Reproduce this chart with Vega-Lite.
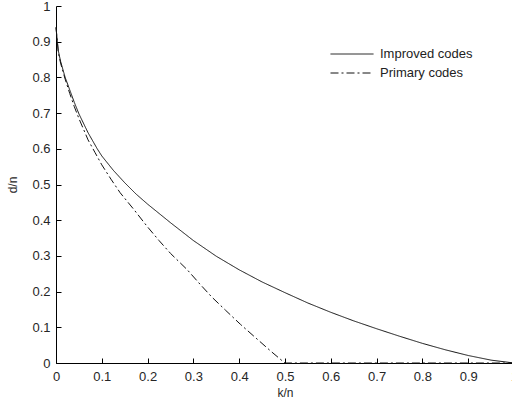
{
  "$schema": "https://vega.github.io/schema/vega-lite/v6.json",
  "autosize": "none",
  "padding": {"left": 56, "top": 6, "right": 0, "bottom": 42},
  "width": 458,
  "height": 357,
  "background": "white",
  "config": {
    "view": {"stroke": null},
    "font": "Liberation Sans",
    "axis": {"grid": false, "domainColor": "black", "tickColor": "black", "labelColor": "#262626", "titleColor": "#262626", "labelFont": "Liberation Sans", "titleFont": "Liberation Sans", "labelFontSize": 13, "titleFontSize": 12, "titleFontWeight": "normal", "domainWidth": 1, "tickWidth": 1}
  },
  "data": {
    "values": [
      {"k": 0, "d": 0.94, "s": "Improved codes"},
      {"k": 0.005, "d": 0.875, "s": "Improved codes"},
      {"k": 0.01, "d": 0.845, "s": "Improved codes"},
      {"k": 0.02, "d": 0.8, "s": "Improved codes"},
      {"k": 0.03, "d": 0.765, "s": "Improved codes"},
      {"k": 0.04, "d": 0.73, "s": "Improved codes"},
      {"k": 0.05, "d": 0.698, "s": "Improved codes"},
      {"k": 0.07, "d": 0.645, "s": "Improved codes"},
      {"k": 0.09, "d": 0.6, "s": "Improved codes"},
      {"k": 0.1, "d": 0.58, "s": "Improved codes"},
      {"k": 0.125, "d": 0.54, "s": "Improved codes"},
      {"k": 0.15, "d": 0.505, "s": "Improved codes"},
      {"k": 0.175, "d": 0.473, "s": "Improved codes"},
      {"k": 0.2, "d": 0.445, "s": "Improved codes"},
      {"k": 0.25, "d": 0.393, "s": "Improved codes"},
      {"k": 0.3, "d": 0.343, "s": "Improved codes"},
      {"k": 0.35, "d": 0.299, "s": "Improved codes"},
      {"k": 0.4, "d": 0.261, "s": "Improved codes"},
      {"k": 0.45, "d": 0.227, "s": "Improved codes"},
      {"k": 0.5, "d": 0.197, "s": "Improved codes"},
      {"k": 0.55, "d": 0.168, "s": "Improved codes"},
      {"k": 0.6, "d": 0.142, "s": "Improved codes"},
      {"k": 0.65, "d": 0.118, "s": "Improved codes"},
      {"k": 0.7, "d": 0.096, "s": "Improved codes"},
      {"k": 0.75, "d": 0.075, "s": "Improved codes"},
      {"k": 0.8, "d": 0.055, "s": "Improved codes"},
      {"k": 0.85, "d": 0.037, "s": "Improved codes"},
      {"k": 0.9, "d": 0.021, "s": "Improved codes"},
      {"k": 0.95, "d": 0.008, "s": "Improved codes"},
      {"k": 1, "d": 0, "s": "Improved codes"},
      {"k": 0, "d": 0.94, "s": "Primary codes"},
      {"k": 0.005, "d": 0.87, "s": "Primary codes"},
      {"k": 0.01, "d": 0.84, "s": "Primary codes"},
      {"k": 0.02, "d": 0.795, "s": "Primary codes"},
      {"k": 0.03, "d": 0.755, "s": "Primary codes"},
      {"k": 0.04, "d": 0.718, "s": "Primary codes"},
      {"k": 0.05, "d": 0.685, "s": "Primary codes"},
      {"k": 0.07, "d": 0.625, "s": "Primary codes"},
      {"k": 0.085, "d": 0.59, "s": "Primary codes"},
      {"k": 0.1, "d": 0.555, "s": "Primary codes"},
      {"k": 0.12, "d": 0.515, "s": "Primary codes"},
      {"k": 0.14, "d": 0.477, "s": "Primary codes"},
      {"k": 0.17, "d": 0.43, "s": "Primary codes"},
      {"k": 0.2, "d": 0.381, "s": "Primary codes"},
      {"k": 0.225, "d": 0.343, "s": "Primary codes"},
      {"k": 0.25, "d": 0.307, "s": "Primary codes"},
      {"k": 0.286, "d": 0.262, "s": "Primary codes"},
      {"k": 0.315, "d": 0.22, "s": "Primary codes"},
      {"k": 0.34, "d": 0.185, "s": "Primary codes"},
      {"k": 0.37, "d": 0.148, "s": "Primary codes"},
      {"k": 0.403, "d": 0.108, "s": "Primary codes"},
      {"k": 0.44, "d": 0.066, "s": "Primary codes"},
      {"k": 0.47, "d": 0.032, "s": "Primary codes"},
      {"k": 0.495, "d": 0.005, "s": "Primary codes"},
      {"k": 0.5, "d": 0, "s": "Primary codes"},
      {"k": 1, "d": 0, "s": "Primary codes"}
    ]
  },
  "mark": {"type": "line", "strokeWidth": 1, "color": "#111", "clip": false},
  "encoding": {
    "x": {"field": "k", "type": "quantitative", "scale": {"domain": [0, 1], "nice": false, "zero": false},
      "axis": {"title": "k/n", "values": [0, 0.1, 0.2, 0.3, 0.4, 0.5, 0.6, 0.7, 0.8, 0.9, 1], "format": "~g", "tickSize": -5, "labelPadding": 12, "titlePadding": 4, "labelFlush": false, "labelOverlap": false}},
    "y": {"field": "d", "type": "quantitative", "scale": {"domain": [0, 1], "nice": false},
      "axis": {"title": "d/n", "values": [0, 0.1, 0.2, 0.3, 0.4, 0.5, 0.6, 0.7, 0.8, 0.9, 1], "format": "~g", "tickSize": -5, "labelPadding": 11, "titlePadding": 12, "labelFlush": false, "labelOverlap": false}},
    "strokeDash": {"field": "s", "type": "nominal",
      "scale": {"domain": ["Improved codes", "Primary codes"], "range": [[1, 0], [8, 3, 2, 3]]},
      "legend": {"title": null, "orient": "none", "legendX": 274, "legendY": 38.5, "symbolType": "stroke", "symbolSize": 1849, "symbolStrokeWidth": 1, "symbolStrokeColor": "#111", "clipHeight": 19, "rowPadding": 0, "labelOffset": 6, "labelFontSize": 13, "labelColor": "#222", "labelFont": "Liberation Sans", "padding": 0}
    }
  }
}
